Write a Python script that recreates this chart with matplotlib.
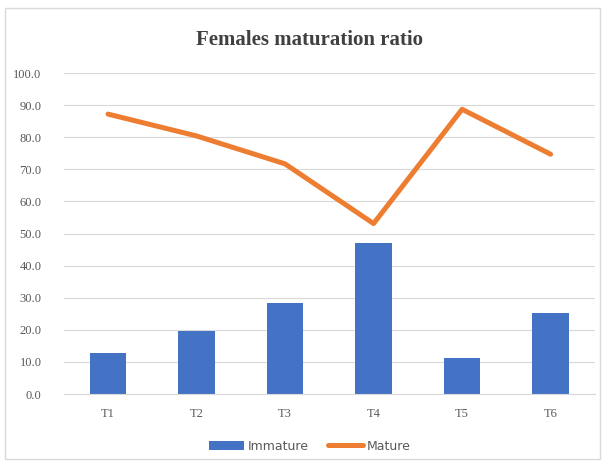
import matplotlib
matplotlib.use('Agg')
import matplotlib.pyplot as plt
from matplotlib.patches import Rectangle
import numpy as np

categorias = ['T1', 'T2', 'T3', 'T4', 'T5', 'T6']
immature = [12.8, 19.6, 28.3, 46.9, 11.3, 25.3]
mature = [87.2, 80.4, 71.7, 53.1, 88.7, 74.7]
yticks = [0, 10, 20, 30, 40, 50, 60, 70, 80, 90, 100]

azul = '#4472C4'
laranja = '#ED7D31'
cinza = '#595959'

fig = plt.figure(figsize=(6.07, 4.68), dpi=100)
ax = fig.add_axes([0.105, 0.158, 0.875, 0.686])

x = np.arange(len(categorias))
barras = ax.bar(x, immature, width=0.41, color=azul, zorder=2, label='Immature')
linha, = ax.plot(x, mature, color=laranja, linewidth=3.6, zorder=3, label='Mature',
                 solid_joinstyle='round', solid_capstyle='round')

ax.set_xlim(-0.5, len(categorias) - 0.5)
ax.set_ylim(0, 100)
ax.set_yticks(yticks)
ax.set_yticklabels([f'{v:.1f}' for v in yticks])
ax.set_xticks(x)
ax.set_xticklabels(categorias)
ax.grid(axis='y', color='#D9D9D9', linewidth=0.8, zorder=0)
ax.set_axisbelow(True)

for s in ['top', 'right', 'left']:
    ax.spines[s].set_visible(False)
ax.spines['bottom'].set_color('#D9D9D9')
ax.tick_params(axis='both', length=0, colors=cinza, labelsize=9)
ax.tick_params(axis='y', pad=16)
ax.tick_params(axis='x', pad=10)
for t in ax.get_xticklabels() + ax.get_yticklabels():
    t.set_family('Liberation Serif')

fig.text(0.51, 0.915, 'Females maturation ratio', ha='center', va='center',
         fontsize=15, fontweight='bold', family='Liberation Serif', color='#404040')

leg = fig.legend([barras, linha], ['Immature', 'Mature'], loc='center',
                 bbox_to_anchor=(0.51, 0.047), ncol=2, frameon=False,
                 fontsize=9, handlelength=2.8, columnspacing=1.5, handletextpad=0.3)
for t in leg.get_texts():
    t.set_color(cinza)

# borda externa do grafico
fig.patches.append(Rectangle((0.008, 0.02), 0.981, 0.963, transform=fig.transFigure,
                             fill=False, edgecolor='#D9D9D9', linewidth=1))

plt.savefig('out.png', dpi=100)
plt.close(fig)
